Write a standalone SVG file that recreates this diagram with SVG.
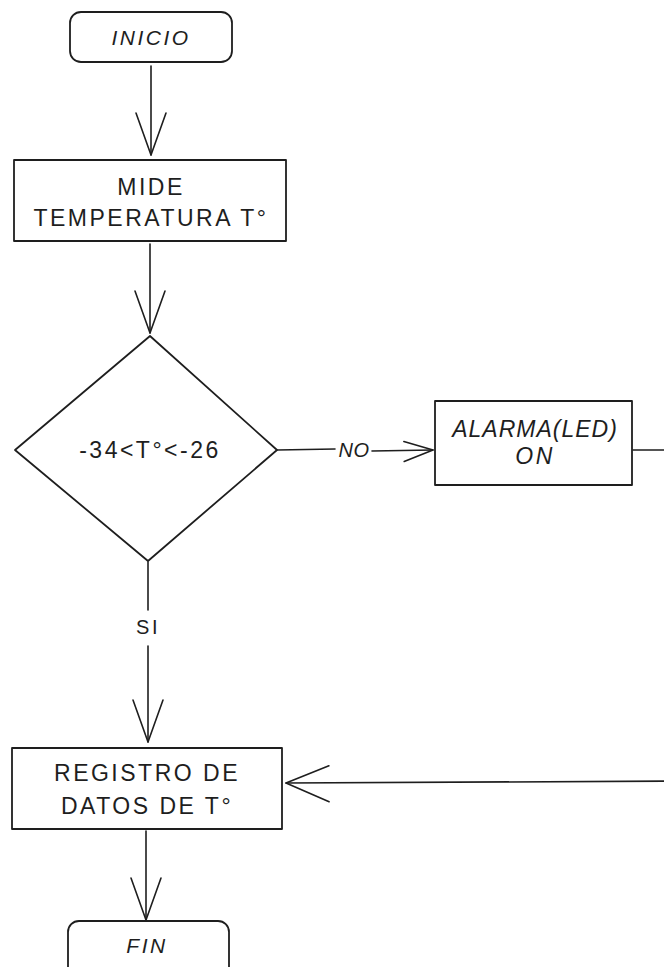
<svg xmlns="http://www.w3.org/2000/svg" width="664" height="967" viewBox="0 0 664 967">
<style>
.s{fill:#ffffff;stroke:#1e1e1e;stroke-width:1.8;stroke-linejoin:round}
.c{fill:none;stroke:#1e1e1e;stroke-width:1.6;stroke-linecap:round}
.t{font-family:"Liberation Sans","DejaVu Sans",sans-serif;font-size:23px;fill:#1e1e1e;text-anchor:middle;dominant-baseline:central;letter-spacing:2.5px}
.i{font-style:italic}
</style>
<defs>
<marker id="big" markerUnits="userSpaceOnUse" markerWidth="60" markerHeight="50" refX="0" refY="0" viewBox="-50 -25 60 50" orient="auto" overflow="visible">
<path d="M-42,-15 L0,0 L-42,15" fill="none" stroke="#1e1e1e" stroke-width="1.6" stroke-linecap="round" stroke-linejoin="round"/>
</marker>
<marker id="small" markerUnits="userSpaceOnUse" markerWidth="40" markerHeight="30" refX="0" refY="0" viewBox="-35 -15 40 30" orient="auto" overflow="visible">
<path d="M-29,-9 L0,0 L-29,11" fill="none" stroke="#1e1e1e" stroke-width="1.6" stroke-linecap="round" stroke-linejoin="round"/>
</marker>
<marker id="wide" markerUnits="userSpaceOnUse" markerWidth="60" markerHeight="50" refX="0" refY="0" viewBox="-50 -25 60 50" orient="auto" overflow="visible">
<path d="M-43,-19 L0,0 L-43,17" fill="none" stroke="#1e1e1e" stroke-width="1.6" stroke-linecap="round" stroke-linejoin="round"/>
</marker>
</defs>
<g id="connectors">
<path class="c" d="M151,66 L151,155" marker-end="url(#big)"/>
<path class="c" d="M150,244 L150,333" marker-end="url(#big)"/>
<path class="c" d="M277,450 L335,449"/>
<path class="c" d="M372,451 L433,450" marker-end="url(#small)"/>
<text class="t i" x="354" y="450" style="font-size:20px;letter-spacing:0.5px">NO</text>
<path class="c" d="M148,562 L148,610"/>
<text class="t" x="148" y="627" style="font-size:20px">SI</text>
<path class="c" d="M148,646 L148,742" marker-end="url(#big)"/>
<path class="c" d="M633,450 L700,450 L700,782"/>
<path class="c" d="M700,781 L286,783" marker-end="url(#wide)"/>
<path class="c" d="M146,831 L146,920" marker-end="url(#big)"/>
</g>
<g id="inicio">
<rect class="s" x="70" y="12" width="162" height="50" rx="11"/>
<text class="t i" x="151" y="37" style="font-size:21px">INICIO</text>
</g>
<g id="mide">
<rect class="s" x="14" y="160" width="272" height="81"/>
<text class="t" x="151" y="187">MIDE</text>
<text class="t" x="151" y="218">TEMPERATURA T°</text>
</g>
<g id="decision">
<path class="s" d="M150,336 L277,450 L148,561 L15,450 Z"/>
<text class="t" x="150" y="450">-34&lt;T°&lt;-26</text>
</g>
<g id="alarma">
<rect class="s" x="435" y="401" width="197" height="84"/>
<text class="t i" x="535" y="429" style="letter-spacing:1px">ALARMA(LED)</text>
<text class="t i" x="535" y="456">ON</text>
</g>
<g id="registro">
<rect class="s" x="12" y="748" width="270" height="81"/>
<text class="t" x="147" y="773">REGISTRO DE</text>
<text class="t" x="147" y="806">DATOS DE T°</text>
</g>
<g id="fin">
<rect class="s" x="68" y="921" width="161" height="60" rx="11"/>
<text class="t i" x="147" y="945" style="font-size:21px">FIN</text>
</g>
</svg>
